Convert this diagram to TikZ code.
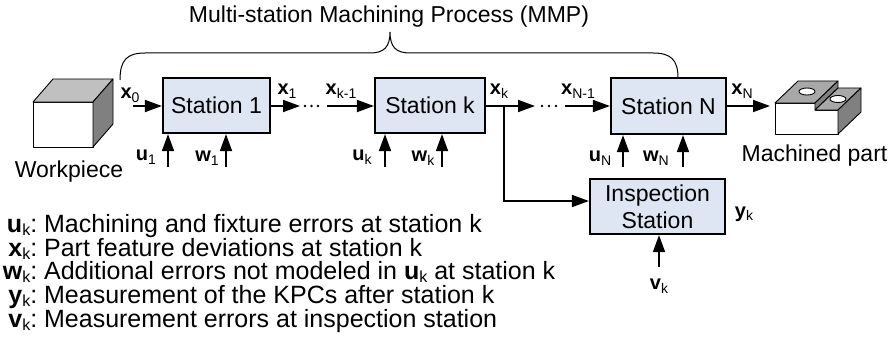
\documentclass[tikz,border=0pt]{standalone}
\usepackage{fontspec}
\setmainfont{Liberation Sans}
\usetikzlibrary{arrows.meta}

\definecolor{boxfill}{RGB}{221,230,242}
\definecolor{lightface}{RGB}{192,192,192}
\definecolor{midface}{RGB}{168,168,168}
\definecolor{darkface}{RGB}{128,128,128}

% bold symbol with a small lowered index
\newcommand\symlbl[2]{\textbf{#1}\raisebox{-0.35ex}{\fontsize{14}{14}\selectfont #2}}
\newcommand\symlgd[2]{\textbf{#1}\raisebox{-0.3ex}{\fontsize{16}{16}\selectfont #2}}

\begin{document}
\begin{tikzpicture}[x=1pt,y=-1pt,
  stationbox/.style={draw, line width=2.2pt, fill=boxfill, inner sep=0pt,
    align=center, font=\fontsize{23}{27}\selectfont},
  sym/.style={inner sep=0pt, font=\fontsize{20}{22}\selectfont},
  caption/.style={inner sep=0pt, font=\fontsize{23}{26}\selectfont},
  legendline/.style={inner sep=0pt, anchor=base west, font=\fontsize{25}{28}\selectfont},
  arr/.style={line width=1.8pt, -{Triangle[length=17pt,width=12pt]}},
  bracket/.style={line width=1pt},
  solid3d/.style={line width=0.9pt, line join=round}]
\useasboundingbox (0,0) rectangle (889,345);

% title and bracket
\node[caption] (title) at (389,17) {Multi-station Machining Process (MMP)};
\draw[bracket] (120,80) .. controls (120,60) and (127,53) .. (145,53) -- (370,53)
  .. controls (384,53) and (390,47) .. (390,32)
  .. controls (390,47) and (396,53) .. (410,53) -- (653,53)
  .. controls (671,53) and (678,60) .. (678,78);

% workpiece block
\draw[solid3d, fill=white] (33,102) rectangle (93,147);
\draw[solid3d, fill=lightface] (33,102) -- (93,102) -- (113,79) -- (53,79) -- cycle;
\draw[solid3d, fill=darkface] (93,102) -- (113,79) -- (113,124) -- (93,147) -- cycle;
\node[caption] (wp) at (69,172) {Workpiece};

% machined part (stepped block with two holes)
\draw[solid3d, fill=white] (775,103) -- (815,103) -- (815,110) -- (838,110) -- (838,134) -- (775,134) -- cycle;
\draw[solid3d, fill=midface] (775,103) -- (815,103) -- (838,81) -- (798,81) -- cycle;
\draw[solid3d, fill=darkface] (815,103) -- (838,81) -- (838,88) -- (815,110) -- cycle;
\draw[solid3d, fill=midface] (815,110) -- (838,110) -- (861,88) -- (838,88) -- cycle;
\draw[solid3d, fill=darkface] (838,110) -- (861,88) -- (861,112) -- (838,134) -- cycle;
\draw[solid3d, fill=white] (807,91.5) ellipse (8 and 3.5);
\draw[solid3d, fill=white] (838,99) ellipse (8 and 3.5);
\node[caption] (mp) at (814.5,156) {Machined part};

% stations
\node[stationbox, minimum width=107pt, minimum height=55pt] (s1) at (216.5,105.5) {Station 1};
\node[stationbox, minimum width=110pt, minimum height=55pt] (sk) at (430,105.5) {Station k};
\node[stationbox, minimum width=115pt, minimum height=56pt] (sN) at (668.5,106) {Station N};
\node[stationbox, minimum width=135pt, minimum height=55pt] (insp) at (657.5,206.5) {Inspection\\Station};

% part flow along the line
\coordinate (x0s) at (133,106);
\draw[arr] (x0s) -- (x0s -| s1.west);
\coordinate (e1) at (300,106);
\draw[arr] (s1.east |- e1) -- (e1);
\foreach \d in {305,311.5,318} \fill (\d,106) circle (1.3);
\coordinate (sk0) at (327,106);
\draw[arr] (sk0) -- (sk0 -| sk.west);
\coordinate (ek) at (535,106);
\draw[arr] (sk.east |- ek) -- (ek);
\foreach \d in {542,549,556} \fill (\d,106) circle (1.3);
\coordinate (sN0) at (565,106);
\draw[arr] (sN0) -- (sN0 -| sN.west);
\coordinate (eN) at (770,106);
\draw[arr] (sN.east |- eN) -- (eN);
\coordinate (br) at (504,106);
\draw[arr] (br) |- ([yshift=5.5pt]insp.west);

% state labels
\node[sym] (lx0) at (130,95) {\symlbl{x}{0}};
\node[sym] (lx1) at (287,91) {\symlbl{x}{1}};
\node[sym] (lxk1) at (341,91) {\symlbl{x}{k-1}};
\node[sym] (lxk) at (499,91) {\symlbl{x}{k}};
\node[sym] (lxN1) at (578,91) {\symlbl{x}{N-1}};
\node[sym] (lxN) at (742,91) {\symlbl{x}{N}};

% station inputs
\coordinate (u1) at (168,167);  \draw[arr] (u1) -- (u1 |- s1.south);
\coordinate (w1) at (226,167);  \draw[arr] (w1) -- (w1 |- s1.south);
\coordinate (uk) at (385,167);  \draw[arr] (uk) -- (uk |- sk.south);
\coordinate (wk) at (442,167);  \draw[arr] (wk) -- (wk |- sk.south);
\coordinate (uN) at (623,167);  \draw[arr] (uN) -- (uN |- sN.south);
\coordinate (wN) at (683,167);  \draw[arr] (wN) -- (wN |- sN.south);
\coordinate (vk) at (659,267);  \draw[arr] (vk) -- (vk |- insp.south);

\node[sym] (lu1) at (146,157) {\symlbl{u}{1}};
\node[sym] (lw1) at (207,158) {\symlbl{w}{1}};
\node[sym] (luk) at (362,157) {\symlbl{u}{k}};
\node[sym] (lwk) at (423,158) {\symlbl{w}{k}};
\node[sym] (luN) at (600,158) {\symlbl{u}{N}};
\node[sym] (lwN) at (656,158) {\symlbl{w}{N}};
\node[sym] (lvk) at (659,286) {\symlbl{v}{k}};
\node[sym] (lyk) at (744,214) {\symlbl{y}{k}};

% legend
\node[legendline] (d1) at (0,232) {\makebox[37pt][r]{\symlgd{u}{k}:} Machining and fixture errors at station k};
\node[legendline] (d2) at (0,256) {\makebox[37pt][r]{\symlgd{x}{k}:} Part feature deviations at station k};
\node[legendline] (d3) at (0,279) {\makebox[37pt][r]{\symlgd{w}{k}:} Additional errors not modeled in \symlgd{u}{k} at station k};
\node[legendline] (d4) at (0,303) {\makebox[37pt][r]{\symlgd{y}{k}:} Measurement of the KPCs after station k};
\node[legendline] (d5) at (0,327) {\makebox[37pt][r]{\symlgd{v}{k}:} Measurement errors at inspection station};
\end{tikzpicture}
\end{document}
